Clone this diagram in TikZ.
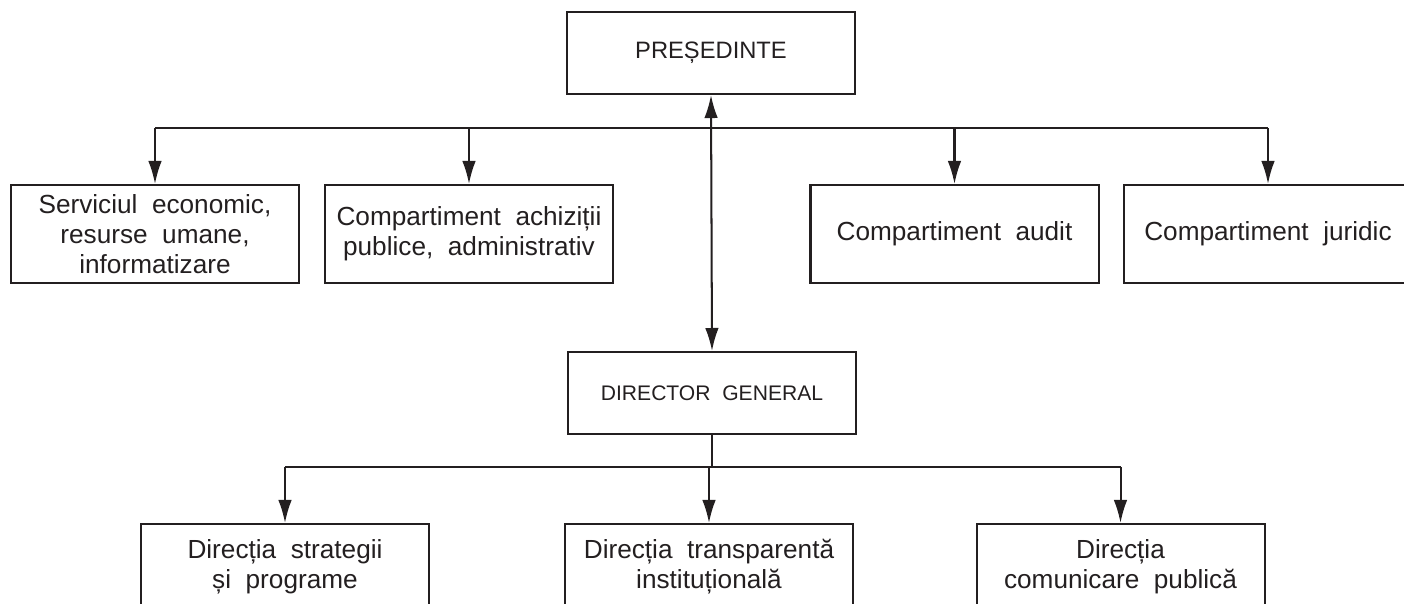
\documentclass[tikz,border=0pt]{standalone}
\usepackage{fontspec}
\setmainfont{Liberation Sans}[WordSpace=2]
\usetikzlibrary{arrows.meta}
\definecolor{ink}{RGB}{35,31,32}

\begin{document}
\begin{tikzpicture}[
	box/.style={draw=ink, line width=1.15pt, text=ink, align=center, inner sep=0pt,
		minimum width=5.76cm, minimum height=1.96cm, font=\fontsize{14.9}{17.2}\selectfont},
	headbox/.style={box, minimum height=1.64cm},
	link/.style={draw=ink, line width=1.15pt},
	tip/.style={link, arrows={-Latex[length=0.46cm,width=0.27cm]}},
	twotip/.style={link, arrows={Latex[length=0.46cm,width=0.27cm]-Latex[length=0.46cm,width=0.27cm]}}
]

\clip (0,0) rectangle (28.08,-12.06);

\coordinate (TopBar) at (14.2,-2.56);
\coordinate (LowBar) at (14.2,-9.34);

	% president and director general
	\node[headbox, font=\fontsize{13.5}{16}\selectfont] (pres) at (14.22,-1.06) {PREȘEDINTE};
	\node[headbox, font=\fontsize{12}{14}\selectfont] (dg) at (14.24,-7.86) {DIRECTOR GENERAL};

	% boxes under the president
	\node[box] (serv) at (3.10,-4.68) {Serviciul economic,\\resurse umane,\\informatizare};
	\node[box] (achiz) at (9.38,-4.68) {Compartiment achiziții\\publice, administrativ};
	\node[box] (audit) at (19.09,-4.68) {Compartiment audit};
	\node[box] (jur) at (25.36,-4.68) {Compartiment juridic};

	% boxes under the director general
	\node[box, minimum height=1.70cm] (strat) at (5.70,-11.33) {Direcția strategii\\și programe};
	\node[box, minimum height=1.70cm] (transp) at (14.18,-11.33) {Direcția transparentă\\instituțională};
	\node[box, minimum height=1.70cm] (comun) at (22.41,-11.33) {Direcția\\comunicare publică};

	% president <-> director general
	\draw[twotip] (pres.south) -- (dg.north);

	% upper bar and its arrows
	\draw[link] (serv.north |- TopBar) -- (jur.north |- TopBar);
	\draw[tip] (serv.north |- TopBar) -- (serv.north);
	\draw[tip] (achiz.north |- TopBar) -- (achiz.north);
	\draw[tip] (audit.north |- TopBar) -- (audit.north);
	\draw[tip] (jur.north |- TopBar) -- (jur.north);

	% lower bar and its arrows
	\draw[link] (dg.south) -- (dg.south |- LowBar);
	\draw[link] (strat.north |- LowBar) -- (comun.north |- LowBar);
	\draw[tip] (strat.north |- LowBar) -- (strat.north);
	\draw[tip] (transp.north |- LowBar) -- (transp.north);
	\draw[tip] (comun.north |- LowBar) -- (comun.north);

\end{tikzpicture}
\end{document}
